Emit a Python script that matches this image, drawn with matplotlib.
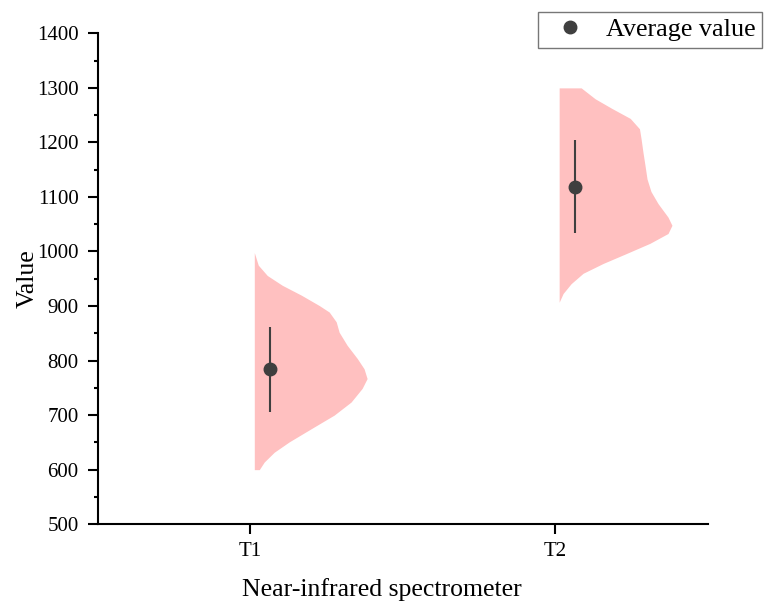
import numpy as np
import matplotlib.pyplot as plt
from matplotlib.lines import Line2D

plt.rcParams['font.family'] = ['Liberation Serif', 'DejaVu Serif']

# categories and summary stats
groups = ['T1', 'T2']
means = [784, 1119]
errors = [78, 85]

# half-violin outlines: value grid and relative density (max = 1)
t1_values = [600, 614, 632, 651, 675, 700, 724, 749, 767, 785, 804, 828, 852, 871,
             889, 901, 920, 938, 956, 975, 998]
t1_density = [0.044, 0.088, 0.177, 0.31, 0.504, 0.708, 0.858, 0.956, 1.0, 0.973, 0.912,
              0.823, 0.752, 0.726, 0.664, 0.575, 0.416, 0.248, 0.115, 0.035, 0.0]

t2_values = [907, 923, 941, 960, 978, 996, 1015, 1033, 1048, 1063, 1088, 1110, 1133,
             1158, 1182, 1207, 1225, 1244, 1262, 1280, 1300]
t2_density = [0.0, 0.035, 0.106, 0.212, 0.389, 0.593, 0.805, 0.965, 1.0, 0.965, 0.876,
              0.814, 0.779, 0.761, 0.743, 0.726, 0.712, 0.63, 0.47, 0.319, 0.195]

values = [t1_values, t2_values]
densities = [t1_density, t2_density]

fig = plt.figure(figsize=(7.65, 6.06), dpi=100)
ax = fig.add_axes([0.128, 0.135, 0.797, 0.81])

max_width = 0.37
for i in range(len(groups)):
    y = np.array(values[i])
    w = np.array(densities[i]) * max_width
    ax.fill_betweenx(y, i + 0.013, i + 0.013 + w, color='#ffc0c0', linewidth=0)
    ax.vlines(i + 0.065, means[i] - errors[i], means[i] + errors[i], color='#3f3f3f', linewidth=1.5)
    ax.plot(i + 0.065, means[i], 'o', color='#3f3f3f', markersize=9)

ax.set_xlim(-0.5, 1.5)
ax.set_ylim(500, 1400)
ax.set_xticks(range(len(groups)))
ax.set_xticklabels(groups)
ax.set_yticks(np.arange(500, 1401, 100))
ax.set_yticks(np.arange(550, 1400, 100), minor=True)

for s in ['top', 'right']:
    ax.spines[s].set_visible(False)
for s in ['left', 'bottom']:
    ax.spines[s].set_linewidth(1.5)
ax.tick_params(axis='both', which='major', length=7, width=1.5, labelsize=15, direction='out')
ax.tick_params(axis='y', which='major', pad=7)
ax.tick_params(axis='x', which='major', pad=6)
ax.tick_params(axis='y', which='minor', length=3, width=1.5)

ax.set_xlabel('Near-infrared spectrometer', fontsize=18.5, labelpad=12)
ax.xaxis.label.set_x(0.466)  # label sits centred on the figure, not the axes
ax.set_ylabel('Value', fontsize=18.5, labelpad=-1.5)

handle = Line2D([], [], marker='o', linestyle='none', color='#3f3f3f', markersize=9)
leg = fig.legend([handle], ['Average value'], loc='upper right', bbox_to_anchor=(0.996, 0.981),
                 fontsize=18.8, frameon=True, fancybox=False, borderpad=0.25, handletextpad=0.36,
                 borderaxespad=0)
leg.get_frame().set_edgecolor('#555555')
leg.get_frame().set_linewidth(1)

fig.savefig('out.png', dpi=100)
